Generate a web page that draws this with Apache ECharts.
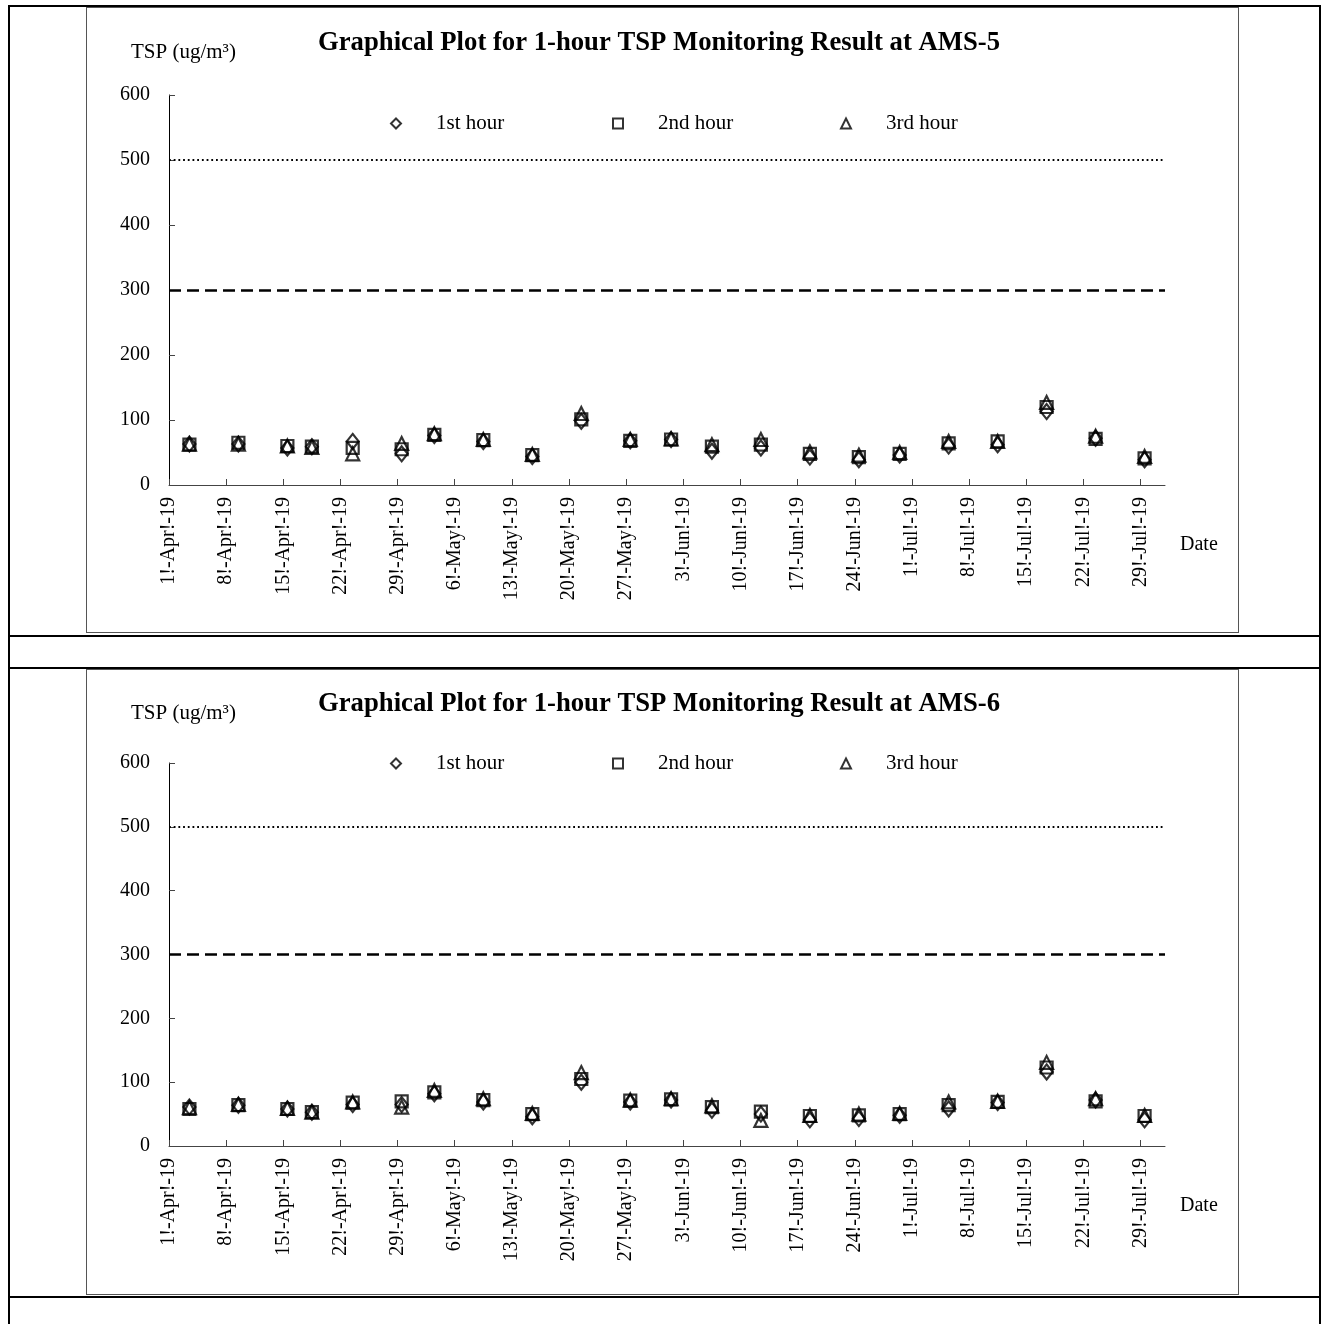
<!DOCTYPE html>
<html>
<head>
<meta charset="utf-8">
<title>1-hour TSP Monitoring Result</title>
<script src="https://cdn.jsdelivr.net/npm/echarts@6/dist/echarts.min.js"></script>
<style>
    body { margin: 0; background: #fff; }
    .page { position: relative; width: 1325px; height: 1324px; overflow: hidden; }
    .rule { position: absolute; background: #000; }
    .frame { position: absolute; left: 86px; width: 1153px; height: 626px; box-sizing: border-box; border: 1px solid #555; }
    .chart { position: absolute; left: 86px; width: 1153px; height: 626px; }
</style>
</head>
<body>
<div class="page">
    <!-- table rules -->
    <div class="rule" style="left:8px;top:5px;width:1313px;height:2px"></div>
    <div class="rule" style="left:8px;top:5px;width:2px;height:1319px"></div>
    <div class="rule" style="left:1319px;top:5px;width:2px;height:1319px"></div>
    <div class="rule" style="left:8px;top:635px;width:1313px;height:2px"></div>
    <div class="rule" style="left:8px;top:667px;width:1313px;height:2px"></div>
    <div class="rule" style="left:8px;top:1296px;width:1313px;height:2px"></div>
    <!-- chart frames -->
    <div class="frame" style="top:7px"></div>
    <div class="frame" style="top:669px"></div>
    <div id="chart_ams5" class="chart" style="top:7px"></div>
    <div id="chart_ams6" class="chart" style="top:669px"></div>
</div>
<script>
/* ------------------------------------------------------------------------------
 *
 *  # 1-hour TSP plots (AMS-5 / AMS-6)
 *
 * ---------------------------------------------------------------------------- */

// Data
// ------------------------------
var sampleDates = [
    '2019-04-03', '2019-04-09', '2019-04-15', '2019-04-18', '2019-04-23', '2019-04-29',
    '2019-05-03', '2019-05-09', '2019-05-15', '2019-05-21', '2019-05-27', '2019-06-01',
    '2019-06-06', '2019-06-12', '2019-06-18', '2019-06-24', '2019-06-29', '2019-07-05',
    '2019-07-11', '2019-07-17', '2019-07-23', '2019-07-29'
];
var tickDates = [
    '2019-04-01', '2019-04-08', '2019-04-15', '2019-04-22', '2019-04-29', '2019-05-06',
    '2019-05-13', '2019-05-20', '2019-05-27', '2019-06-03', '2019-06-10', '2019-06-17',
    '2019-06-24', '2019-07-01', '2019-07-08', '2019-07-15', '2019-07-22', '2019-07-29'
];
var axisStartDate = '2019-04-01';
var axisEndDate = '2019-08-01';
var monthNames = ['Jan', 'Feb', 'Mar', 'Apr', 'May', 'Jun', 'Jul', 'Aug', 'Sep', 'Oct', 'Nov', 'Dec'];
var hourNames = ['1st hour', '2nd hour', '3rd hour'];
var hourSymbols = ['diamond', 'rect', 'triangle'];
var yTicks = [0, 100, 200, 300, 400, 500, 600];
var limitLevels = [500, 300];

var ams5Hour1 = [63, 63, 57, 59, 67, 48, 76, 67, 44, 98, 68, 70, 52, 57, 43, 39, 46, 60, 62, 113, 72, 39];
var ams5Hour2 = [62, 65, 60, 59, 57, 55, 77, 69, 46, 101, 68, 70, 59, 62, 48, 43, 48, 64, 67, 120, 71, 41];
var ams5Hour3 = [63, 63, 60, 58, 48, 64, 79, 70, 47, 110, 70, 71, 62, 70, 51, 46, 50, 67, 67, 127, 75, 44];

var ams6Hour1 = [61, 64, 58, 53, 65, 65, 82, 69, 46, 100, 69, 72, 56, 50, 41, 43, 48, 58, 68, 116, 72, 41];
var ams6Hour2 = [58, 64, 58, 53, 68, 70, 84, 72, 50, 105, 71, 73, 61, 54, 47, 48, 50, 64, 69, 123, 70, 47];
var ams6Hour3 = [60, 65, 59, 53, 69, 61, 87, 74, 51, 115, 72, 74, 63, 40, 48, 50, 51, 69, 70, 131, 74, 48];

// Setup module
// ------------------------------
var TspPlot = function () {

    var FONT = '"Liberation Serif", "Times New Roman", serif';
    var DAY = 86400000;

    var _toUtc = function (s) {
        var p = s.split('-');
        return Date.UTC(+p[0], +p[1] - 1, +p[2]);
    };

    // days since axis start
    var _dayIndex = function (s) {
        return (_toUtc(s) - _toUtc(axisStartDate)) / DAY;
    };

    var _dateLabel = function (v) {
        var d = new Date(_toUtc(axisStartDate) + v * DAY);
        return d.getUTCDate() + '!-' + monthNames[d.getUTCMonth()] + '!-' + String(d.getUTCFullYear()).slice(2);
    };

    var _create = function (containerId, cfg) {
        var element = document.getElementById(containerId);
        if (!element) {
            console.warn('Chart container not found:', containerId);
            return;
        }
        var chart = echarts.init(element);
        var tickValues = tickDates.map(_dayIndex);

        // Excel-style date axis: a point sits in the middle of its day
        var series = cfg.hours.map(function (values, i) {
            return {
                name: hourNames[i],
                type: 'scatter',
                symbol: hourSymbols[i],
                symbolSize: [[12, 15], [12, 12], [13, 13]][i],
                itemStyle: { color: 'rgba(0,0,0,0)', borderColor: '#000', borderWidth: 2.2 },
                data: values.map(function (v, k) {
                    return [_dayIndex(sampleDates[k]) + 0.5, v];
                }),
                z: 3 + i
            };
        });

        // limit lines
        series[0].markLine = {
            silent: true,
            symbol: 'none',
            label: { show: false },
            animation: false,
            data: [
                { yAxis: limitLevels[0], lineStyle: { color: '#000', width: 1.8, type: [1.8, 2.9] } },
                { yAxis: limitLevels[1], lineStyle: { color: '#000', width: 2.5, type: [12, 6] } }
            ]
        };

        var legends = hourNames.map(function (name, i) {
            return {
                data: [{ name: name, icon: hourSymbols[i] }],
                left: cfg.legendLeft[i],
                top: cfg.legendTop,
                padding: 0,
                itemWidth: 10,
                itemHeight: 10,
                selectedMode: false,
                itemStyle: { color: 'rgba(0,0,0,0)', borderColor: '#000', borderWidth: 2 },
                textStyle: { fontFamily: FONT, fontSize: 21, color: '#000', padding: [0, 0, 0, 30] }
            };
        });

        var options = {
            animation: false,
            textStyle: { fontFamily: FONT },
            title: [
                {
                    text: cfg.title,
                    left: 232,
                    top: cfg.titleTop,
                    padding: 0,
                    textStyle: { fontFamily: FONT, fontSize: 26.7, fontWeight: 'bold', color: '#000' }
                },
                {
                    text: 'TSP (ug/m³)',
                    left: 45,
                    top: cfg.unitTop,
                    padding: 0,
                    textStyle: { fontFamily: FONT, fontSize: 21, fontWeight: 'normal', color: '#000' }
                },
                {
                    text: 'Date',
                    left: 1094,
                    top: cfg.dateTop,
                    padding: 0,
                    textStyle: { fontFamily: FONT, fontSize: 20, fontWeight: 'normal', color: '#000' }
                }
            ],
            legend: legends,
            grid: {
                left: 83,
                width: 996,
                top: cfg.gridTop,
                height: cfg.gridHeight
            },
            xAxis: {
                type: 'value',
                min: 0,
                max: _dayIndex(axisEndDate),
                interval: 7,
                axisLine: { show: true, lineStyle: { color: '#444', width: 1 } },
                axisTick: { show: true, inside: true, length: 6, lineStyle: { color: '#444' }, customValues: tickValues },
                axisLabel: {
                    rotate: 90,
                    margin: 12,
                    fontFamily: FONT,
                    fontSize: 20,
                    color: '#000',
                    customValues: tickValues,
                    formatter: _dateLabel
                },
                splitLine: { show: false }
            },
            yAxis: {
                type: 'value',
                min: yTicks[0],
                max: yTicks[yTicks.length - 1],
                interval: yTicks[1] - yTicks[0],
                axisLine: { show: true, lineStyle: { color: '#000', width: 1 } },
                axisTick: { show: true, inside: true, length: 6, lineStyle: { color: '#444' } },
                axisLabel: { margin: 19, fontFamily: FONT, fontSize: 20, color: '#000' },
                splitLine: { show: false }
            },
            series: series
        };

        chart.setOption(options);
        window.addEventListener('resize', function () {
            chart.resize();
        });
    };

    return {
        create: _create
    };
}();

document.addEventListener('DOMContentLoaded', function () {
    TspPlot.create('chart_ams5', {
        title: 'Graphical Plot for 1-hour TSP Monitoring Result at AMS-5',
        hours: [ams5Hour1, ams5Hour2, ams5Hour3],
        titleTop: 23,
        unitTop: 35,
        dateTop: 528,
        legendTop: 106,
        legendLeft: [304, 526, 754],
        gridTop: 88,
        gridHeight: 390
    });
    TspPlot.create('chart_ams6', {
        title: 'Graphical Plot for 1-hour TSP Monitoring Result at AMS-6',
        hours: [ams6Hour1, ams6Hour2, ams6Hour3],
        titleTop: 22,
        unitTop: 34,
        dateTop: 527,
        legendTop: 84,
        legendLeft: [304, 526, 754],
        gridTop: 94,
        gridHeight: 383
    });
});
</script>
</body>
</html>
